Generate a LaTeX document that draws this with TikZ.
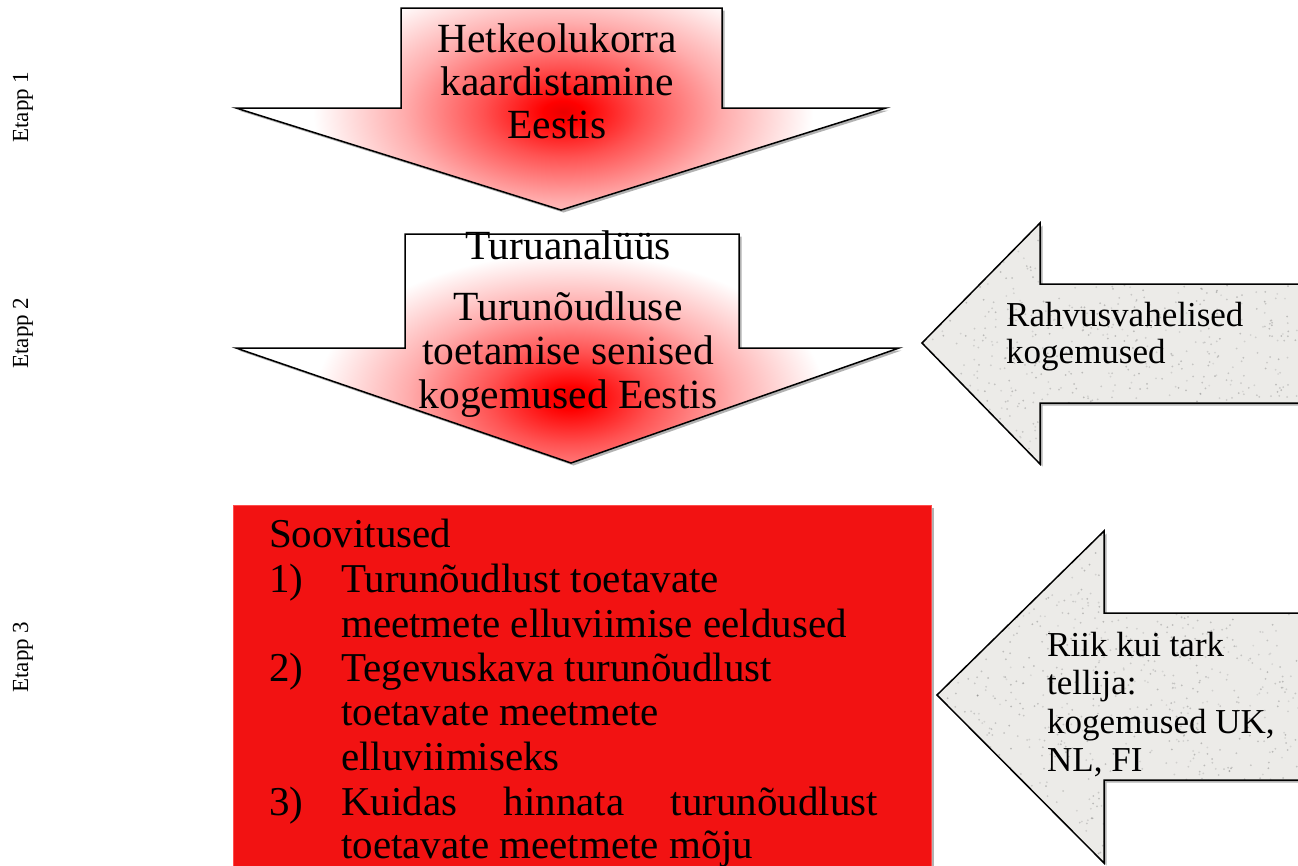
\documentclass[tikz,border=0pt]{standalone}
\usepackage{fontspec}
\setmainfont{Liberation Serif}
\usetikzlibrary{shadows}
\definecolor{boxred}{RGB}{242,18,18}
\definecolor{granite}{RGB}{236,235,232}
\pgfdeclareradialshading{redglow}{\pgfpoint{0bp}{0bp}}{%
 color(0bp)=(red!92!black);
 color(2bp)=(red);
 color(8bp)=(red!68!white);
 color(16bp)=(red!32!white);
 color(25bp)=(white);
 color(50bp)=(white)}
\begin{document}
\begin{tikzpicture}[x=1pt,y=-1pt,
  outline/.style={draw=black, line width=1.5pt, line join=miter},
  shadowed/.style={drop shadow={shadow xshift=2.5pt, shadow yshift=-2.5pt, opacity=0.3, fill=black}},
  arrowtext/.style={font=\fontsize{41.5}{44}\selectfont, inner sep=0, anchor=base},
  boxtext/.style={font=\fontsize{41}{44}\selectfont, inner sep=0, anchor=base west},
  graytext/.style={font=\fontsize{35}{38}\selectfont, inner sep=0, anchor=base west},
  stagetext/.style={font=\fontsize{23}{26}\selectfont, inner sep=0, rotate=90, anchor=center},
]
\useasboundingbox[fill=white] (0,0) rectangle (1298,865);

\def\arrowA{(401,8) -- (722,8) -- (722,108) -- (886,108) -- (561,210) -- (236,108) -- (401,108) -- cycle}
\def\arrowB{(405,234) -- (739,234) -- (739,348) -- (899,348) -- (571,463) -- (236,348) -- (405,348) -- cycle}
\def\arrowC{(922,343) -- (1040,223) -- (1040,284) -- (1320,284) -- (1320,403) -- (1040,403) -- (1040,464) -- cycle}
\def\arrowD{(937,695) -- (1104,531) -- (1104,613) -- (1320,613) -- (1320,780) -- (1104,780) -- (1104,863) -- cycle}

% stage labels
\node[stagetext] (e1) at (23,107) {Etapp 1};
\node[stagetext] (e2) at (23,333) {Etapp 2};
\node[stagetext] (e3) at (23,657) {Etapp 3};

% arrow 1
\path[fill=white, shadowed] \arrowA;
\begin{scope}
  \clip \arrowA;
  \shade[shading=redglow] (563,112) ellipse (250 and 140);
\end{scope}
\draw[outline] \arrowA;
\node[arrowtext] (a1l1) at (557,52) {Hetkeolukorra};
\node[arrowtext] (a1l2) at (557,95) {kaardistamine};
\node[arrowtext] (a1l3) at (557,138) {Eestis};

% arrow 2
\path[fill=white, shadowed] \arrowB;
\begin{scope}
  \clip \arrowB;
  \shade[shading=redglow] (570,398) ellipse (255 and 145);
\end{scope}
\draw[outline] \arrowB;
\node[arrowtext] (a2l0) at (568,259) {Turuanalüüs};
\node[arrowtext] (a2l1) at (568,320) {Turunõudluse};
\node[arrowtext] (a2l2) at (568,364) {toetamise senised};
\node[arrowtext] (a2l3) at (568,408) {kogemused Eestis};

% gray arrow 1
\path[fill=granite, shadowed] \arrowC;
\begin{scope}
  \clip \arrowC;
  \pgfmathsetseed{11}
  \foreach \i in {1,...,900}{
    \pgfmathsetmacro{\spx}{915+rnd*390}
    \pgfmathsetmacro{\spy}{220+rnd*250}
    \pgfmathsetmacro{\spg}{30+rnd*35}
    \fill[black!\spg!white, opacity=0.35] (\spx,\spy) circle (1.0);
  }
\end{scope}
\draw[outline] \arrowC;
\node[graytext] (g1l1) at (1006,326) {Rahvusvahelised};
\node[graytext] (g1l2) at (1006,363) {kogemused};

% gray arrow 2
\path[fill=granite, shadowed] \arrowD;
\begin{scope}
  \clip \arrowD;
  \pgfmathsetseed{23}
  \foreach \i in {1,...,1100}{
    \pgfmathsetmacro{\spx}{930+rnd*375}
    \pgfmathsetmacro{\spy}{528+rnd*340}
    \pgfmathsetmacro{\spg}{30+rnd*35}
    \fill[black!\spg!white, opacity=0.35] (\spx,\spy) circle (1.0);
  }
\end{scope}
\draw[outline] \arrowD;
\node[graytext] (g2l1) at (1047,656) {Riik kui tark};
\node[graytext] (g2l2) at (1047,694) {tellija:};
\node[graytext] (g2l3) at (1047,733) {kogemused UK,};
\node[graytext] (g2l4) at (1047,771) {NL, FI};

% red box
\draw[fill=boxred, draw=red!70!white, line width=0.8pt, shadowed] (233,505) rectangle (931,890);
\node[boxtext] (b0) at (269,547) {Soovitused};
\node[boxtext] (n1) at (269,592) {1)};
\node[boxtext] (b1) at (341,592) {Turunõudlust toetavate};
\node[boxtext] (b2) at (341,637) {meetmete elluviimise eeldused};
\node[boxtext] (n2) at (269,681) {2)};
\node[boxtext] (b3) at (341,681) {Tegevuskava turunõudlust};
\node[boxtext] (b4) at (341,725) {toetavate meetmete};
\node[boxtext] (b5) at (341,770) {elluviimiseks};
\node[boxtext] (n3) at (269,815) {3)};
\node[boxtext] (b6) at (341,815) {\makebox[537pt][s]{Kuidas\hfill hinnata\hfill turunõudlust}};
\node[boxtext] (b7) at (341,858) {toetavate meetmete mõju};
\end{tikzpicture}
\end{document}
